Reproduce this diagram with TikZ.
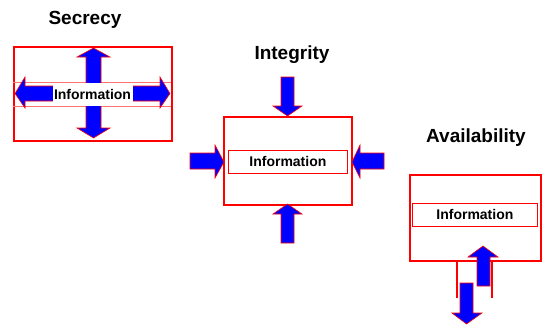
\documentclass[tikz,border=0pt]{standalone}
\usepackage{fontspec}
\setmainfont{Liberation Sans}
\begin{document}
\begin{tikzpicture}[x=1pt,y=-1pt,
  title/.style={font=\fontsize{19}{22}\selectfont\bfseries, inner sep=0pt},
  infotext/.style={font=\fontsize{14}{16}\selectfont\bfseries, inner sep=0pt},
  outerbox/.style={draw=red, line width=2pt},
  infobox/.style={draw=red, line width=0.8pt},
  bandline/.style={draw=red!55, line width=0.8pt},
  bigarrow/.style={fill=blue, draw=red, line width=0.6pt, line join=miter},
  redline/.style={draw=red, line width=2pt}]
\useasboundingbox (0,0) rectangle (542,325);
% ---------- Secrecy ----------
\node[title] (tsec) at (85,20) {Secrecy};
\node[outerbox, minimum width=158pt, minimum height=94pt, anchor=north west] (bsec) at (13,46) {};
\draw[bandline] (13,82) -- (171,82) (13,106) -- (171,106);
\draw[bigarrow] (93.5,48) -- (110,57) -- (101,57) -- (101,128) -- (110,128) -- (93.5,138) -- (77,128) -- (86,128) -- (86,57) -- (77,57) -- cycle;
\draw[bigarrow] (15,93.5) -- (25,77) -- (25,86) -- (160,86) -- (160,77) -- (170,93.5) -- (160,108) -- (160,101) -- (25,101) -- (25,108) -- cycle;
\node[infotext, fill=white, minimum width=80pt, minimum height=23pt] (isec) at (92.5,94) {Information};
% ---------- Integrity ----------
\node[title] (tint) at (292,55) {Integrity};
\node[outerbox, minimum width=128pt, minimum height=88pt, anchor=north west] (bint) at (223,116) {};
\node[infobox, minimum width=119pt, minimum height=23pt, anchor=north west] (iboxint) at (228,150) {};
\node[infotext] (iint) at (iboxint.center) {Information};
\draw[bigarrow] (281,77) -- (294,77) -- (294,106) -- (302,106) -- (287.5,116) -- (273,106) -- (281,106) -- cycle;
\draw[bigarrow] (287.5,204) -- (302,214) -- (294,214) -- (294,243) -- (281,243) -- (281,214) -- (273,214) -- cycle;
\draw[bigarrow] (190,153) -- (215,153) -- (215,145) -- (224,162) -- (215,178) -- (215,169) -- (190,169) -- cycle;
\draw[bigarrow] (384,153) -- (360,153) -- (360,145) -- (352,162) -- (360,178) -- (360,169) -- (384,169) -- cycle;
% ---------- Availability ----------
\node[title] (tav) at (476,138) {Availability};
\node[outerbox, minimum width=131pt, minimum height=86pt, anchor=north west] (bav) at (409,174) {};
\node[infobox, minimum width=125pt, minimum height=23pt, anchor=north west] (iboxav) at (412,203) {};
\node[infotext] (iav) at (iboxav.center) {Information};
\coordinate (l1a) at (457,260); \coordinate (l1b) at (457,298);
\coordinate (l2a) at (492,260); \coordinate (l2b) at (492,298);
\draw[redline] (l1a) -- (l1b);
\draw[redline] (l2a) -- (l2b);
\draw[bigarrow] (483,246) -- (498,257) -- (490,257) -- (490,286) -- (477,286) -- (477,257) -- (468,257) -- cycle;
\draw[bigarrow] (460,283) -- (473,283) -- (473,313) -- (482,313) -- (466.5,324) -- (452,313) -- (460,313) -- cycle;
\end{tikzpicture}
\end{document}
